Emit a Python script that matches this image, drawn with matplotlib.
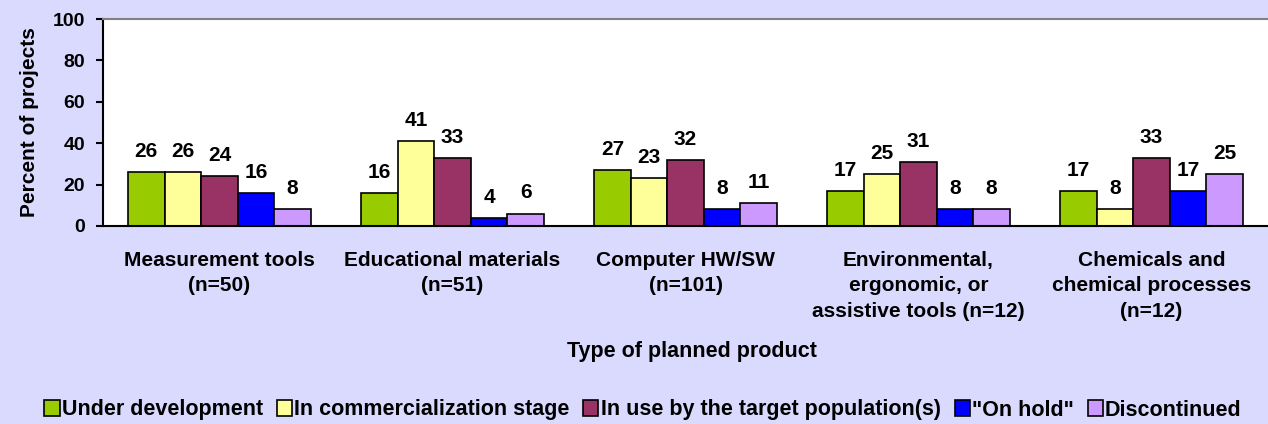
import numpy as np
import matplotlib
matplotlib.use("Agg")
import matplotlib.pyplot as plt

plt.rcParams["font.family"] = ["Liberation Sans", "DejaVu Sans"]
plt.rcParams["font.weight"] = "bold"

categories = [
    "Measurement tools\n(n=50)",
    "Educational materials\n(n=51)",
    "Computer HW/SW\n(n=101)",
    "Environmental,\nergonomic, or\nassistive tools (n=12)",
    "Chemicals and\nchemical processes\n(n=12)",
]
series_names = [
    "Under development",
    "In commercialization stage",
    "In use by the target population(s)",
    '"On hold"',
    "Discontinued",
]
under_development = [26, 16, 27, 17, 17]
commercialization = [26, 41, 23, 25, 8]
in_use = [24, 33, 32, 31, 33]
on_hold = [16, 4, 8, 8, 17]
discontinued = [8, 6, 11, 8, 25]
series_values = [under_development, commercialization, in_use, on_hold, discontinued]
colors = ["#99CC00", "#FFFF99", "#993366", "#0000FF", "#CC99FF"]

bg = "#DADAFF"

fig = plt.figure(figsize=(12.68, 4.24), dpi=100, facecolor=bg)
ax = fig.add_axes([103 / 1268, (424 - 226) / 424, 1 - 103 / 1268, (226 - 19) / 424])
ax.set_facecolor("white")

x = np.arange(len(categories))
width = 0.157
for i, (name, vals, col) in enumerate(zip(series_names, series_values, colors)):
    pos = x + (i - 2) * width
    ax.bar(pos, vals, width, color=col, edgecolor="black", linewidth=1.2,
           label=name, zorder=2)
    for p, v in zip(pos, vals):
        ax.annotate(str(v), (p, v), xytext=(0, 8), textcoords="offset points",
                    ha="center", va="bottom", fontsize=15, fontweight="bold")

ax.set_xlim(-0.5, len(categories) - 0.5)
ax.set_ylim(0, 100)
ax.set_yticks([0, 20, 40, 60, 80, 100])
ax.tick_params(axis="y", labelsize=14, length=5, width=1.5, pad=8)
ax.set_xticks(x)
ax.set_xticklabels(categories, fontsize=15, fontweight="bold", linespacing=1.42)
ax.tick_params(axis="x", length=0, pad=18)
for lab in ax.get_yticklabels():
    lab.set_fontweight("bold")

ax.spines["right"].set_visible(False)
ax.spines["top"].set_color("#808080")
ax.spines["top"].set_linewidth(1.5)
ax.spines["left"].set_linewidth(1.5)
ax.spines["bottom"].set_linewidth(1.5)

ax.set_ylabel("Percent of projects", fontsize=15, fontweight="bold", labelpad=10)
fig.text(692 / 1268, 1 - 352 / 424, "Type of planned product", ha="center",
         va="center", fontsize=15.5, fontweight="bold")

handles, labels = ax.get_legend_handles_labels()
fig.legend(handles, labels, loc="center", bbox_to_anchor=(643 / 1268, 1 - 410 / 424),
           ncol=5, frameon=False, fontsize=15.5, handlelength=0.7, handleheight=0.7,
           handletextpad=0.1, columnspacing=0.65, borderaxespad=0)

fig.savefig("out.png", dpi=100, facecolor=bg)
